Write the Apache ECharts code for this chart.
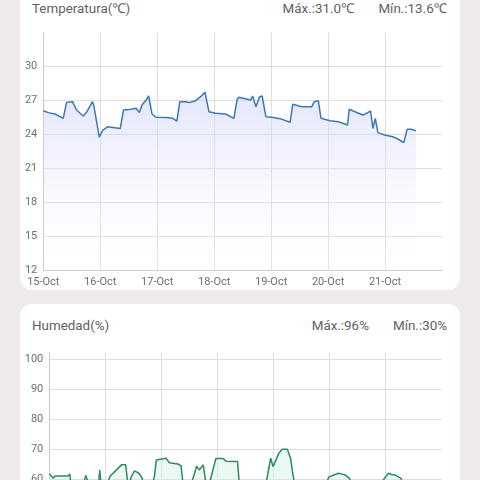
<!DOCTYPE html>
<html>
<head>
<meta charset="utf-8">
<script src="https://cdn.jsdelivr.net/npm/echarts@6/dist/echarts.min.js"></script>
<style>
  html, body { margin: 0; padding: 0; width: 480px; height: 480px; overflow: hidden; background: #eeeaec; font-family: Roboto, 'Noto Sans', sans-serif; }
  .card { position: absolute; left: 20px; width: 440px; background: #fff; border-radius: 12px; }
  .head { position: absolute; left: 12px; right: 13px; display: flex; font-size: 13.4px; color: #616161; line-height: 18px; }
  .head .t { flex: 1; }
  .head .mx { margin-right: 24px; }
  .chart { position: absolute; left: 0; width: 440px; }
</style>
</head>
<body>
<div class="card" style="top:-20px; height:310px;">
  <div class="head" style="top:20px;"><span class="t">Temperatura(℃)</span><span class="mx">Máx.:31.0℃</span><span>Mín.:13.6℃</span></div>
  <div id="temp" class="chart" style="top:20px; height:290px;"></div>
</div>
<div class="card" style="top:304px; height:320px;">
  <div class="head" style="top:13px;"><span class="t">Humedad(%)</span><span class="mx">Máx.:96%</span><span>Mín.:30%</span></div>
  <div id="hum" class="chart" style="top:0; height:300px;"></div>
</div>
<script>
// x labels, one per day (x values are hours since 15-Oct 00:00)
const dayLabels = ['15-Oct', '16-Oct', '17-Oct', '18-Oct', '19-Oct', '20-Oct', '21-Oct', '22-Oct'];

// temperature readings
const tempHours = [0, 2.1, 4.9, 8.4, 9.8, 12.3, 14, 16.8, 18.4, 20.7, 21.3, 23.6, 25.1, 27.2, 29.3, 32.4, 33.8, 37, 39.1, 39.8, 40.5, 41.6, 43.3, 44.4, 45.8, 47.5, 51.7, 54.5, 56.3, 57.5, 60, 61.4, 64.2, 66.3, 68.1, 69.8, 72.6, 76.8, 80.3, 81.7, 82.4, 87.3, 88.2, 89.6, 91.1, 92.2, 93.8, 96.3, 99.8, 104, 105.1, 108.9, 113.1, 114.2, 115.9, 117, 120.8, 124.3, 128.2, 128.9, 131.3, 134.7, 136.1, 137.9, 138.9, 139.9, 141, 143.8, 147.3, 149.4, 151.9, 153.3, 155, 157];
const tempValues = [26.07, 25.9, 25.78, 25.4, 26.8, 26.86, 26.13, 25.6, 25.98, 26.86, 26.5, 23.75, 24.37, 24.66, 24.6, 24.5, 26.13, 26.19, 26.28, 26.37, 25.9, 26.57, 27.0, 27.36, 25.78, 25.49, 25.47, 25.4, 25.16, 26.86, 26.86, 26.78, 26.95, 27.3, 27.69, 25.98, 25.84, 25.78, 25.4, 27.07, 27.25, 27.0, 27.36, 26.42, 27.3, 27.36, 25.54, 25.49, 25.37, 25.05, 26.63, 26.42, 26.42, 26.86, 26.95, 25.4, 25.19, 25.1, 24.81, 26.19, 25.98, 25.69, 25.84, 26.04, 24.52, 25.4, 24.14, 23.93, 23.78, 23.58, 23.26, 24.43, 24.43, 24.31];

// humidity readings
const humHours = [0, 1.7, 2.4, 8.1, 8.8, 9.6, 12, 14.5, 15.6, 16.6, 19, 21, 21.6, 22.2, 24, 25.9, 30.9, 32.7, 33.7, 34.5, 35.1, 36.5, 38.4, 39.8, 40.5, 43, 45, 45.8, 46.5, 50, 51.4, 52.2, 55, 56.4, 57.2, 58, 60, 61.4, 63.1, 64.2, 65.9, 67, 68, 69.2, 71.3, 74.5, 75.6, 80.6, 81.3, 82, 86, 90, 93, 94.8, 95.8, 96.6, 98.3, 99.7, 101.9, 103.3, 104, 105.1, 108, 113, 118, 119.6, 121.8, 123.9, 125, 126.8, 128.5, 129.5, 134, 140, 143.8, 145.2, 146.5, 148.1, 150.6, 151.5, 157];
const humValues = [61.8, 60.3, 61.1, 61.1, 61.8, 56, 54, 58, 61.3, 59, 55, 58, 63.1, 58, 56, 60.9, 64.8, 64.8, 58, 59, 60.9, 62.8, 62, 60.3, 57, 55, 60.9, 66.4, 67, 67, 65.5, 65.3, 65.1, 64.5, 59, 55, 56, 60, 64.4, 63.1, 64.8, 59, 57, 60.5, 66.9, 66.9, 66, 65.9, 59, 55, 52, 54, 59.5, 67, 64.2, 64.2, 68.7, 70, 70, 67, 63.1, 58, 54, 53, 57, 60.7, 61.4, 62, 61.8, 61.4, 60.3, 58, 55, 56, 60.7, 62, 61.6, 61.4, 60.3, 58, 57];

// y axis ranges / steps
const tempAxis = [12, 32.9, 3];
const humAxis = [30, 102.3, 10];

const zip = (xs, ys) => xs.map((x, i) => [x, ys[i]]);
const labelStyle = { color: '#6e6e6e', fontSize: 11, fontFamily: 'Roboto, sans-serif' };
const gridColor = '#dedede';

function makeOption(grid, axis, data, lineColor, areaTop, areaBottom) {
  return {
    animation: false,
    grid: grid,
    xAxis: {
      type: 'value',
      min: 0,
      max: 168,
      interval: 24,
      axisLine: { show: true, lineStyle: { color: '#c8c8c8' } },
      axisTick: { show: false },
      axisLabel: {
        ...labelStyle,
        margin: 6,
        showMaxLabel: false,
        formatter: (v) => dayLabels[Math.round(v / 24)],
      },
      splitLine: { show: true, showMaxLine: false, lineStyle: { color: gridColor } },
    },
    yAxis: {
      type: 'value',
      min: axis[0],
      max: axis[1],
      interval: axis[2],
      axisLine: { show: true, lineStyle: { color: '#c8c8c8' } },
      axisTick: { show: false },
      axisLabel: { ...labelStyle, margin: 6, showMaxLabel: false },
      splitLine: { show: true, showMaxLine: false, lineStyle: { color: gridColor } },
    },
    series: [
      {
        type: 'line',
        data: data,
        symbol: 'none',
        lineStyle: { color: lineColor, width: 1.5 },
        itemStyle: { color: lineColor },
        areaStyle: {
          color: new echarts.graphic.LinearGradient(0, 0, 0, 1, [
            { offset: 0, color: areaTop },
            { offset: 1, color: areaBottom },
          ]),
        },
      },
    ],
  };
}

const tempChart = echarts.init(document.getElementById('temp'));
tempChart.setOption(makeOption(
  { left: 23.3, right: 18, top: 33, bottom: 19.3 },
  tempAxis, zip(tempHours, tempValues),
  '#3d78b3', 'rgba(200,205,248,0.7)', 'rgba(255,255,255,0.2)'
));

const humChart = echarts.init(document.getElementById('hum'));
humChart.setOption(makeOption(
  { left: 29.3, right: 18.3, top: 48.3, bottom: 34.7 },
  humAxis, zip(humHours, humValues),
  '#2f8a5e', 'rgba(200,238,220,0.6)', 'rgba(225,245,235,0.5)'
));

window.addEventListener('resize', () => {
  tempChart.resize();
  humChart.resize();
});
</script>
</body>
</html>
